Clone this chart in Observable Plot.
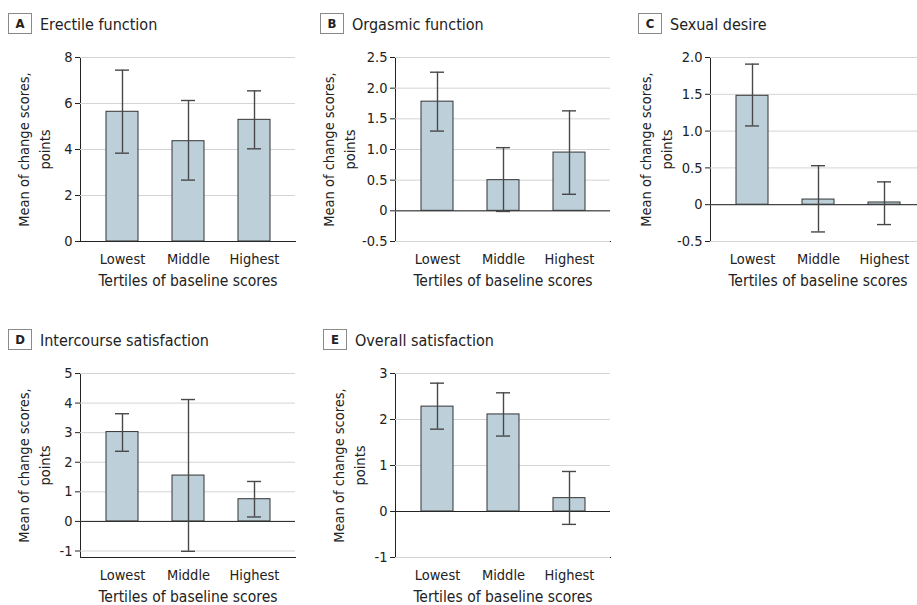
<!DOCTYPE html>
<html>
<head>
<meta charset="utf-8">
<script src="https://cdn.jsdelivr.net/npm/d3@7"></script>
<script src="https://cdn.jsdelivr.net/npm/@observablehq/plot@0.6"></script>
<style>
  html, body { margin:0; padding:0; background:#fff; overflow:hidden; }
  #root { position:relative; width:917px; height:605px; overflow:hidden; }
  .box { position:absolute; width:22px; height:19px; border:1px solid #8a8a8a; box-sizing:content-box;
         font:bold 13px "DejaVu Sans Condensed","DejaVu Sans",sans-serif; color:#222; text-align:center; line-height:19px; }
  .ttl { position:absolute; font:16px "DejaVu Sans Condensed","DejaVu Sans",sans-serif; color:#222; white-space:nowrap; line-height:20px; }
  .plot { position:absolute; }
</style>
</head>
<body>
<div id="root"></div>
<script>
const categories = ["Lowest", "Middle", "Highest"];
const panelLetters = ["A", "B", "C", "D", "E"];
const panelTitles = ["Erectile function", "Orgasmic function", "Sexual desire", "Intercourse satisfaction", "Overall satisfaction"];

const meanA = [5.64, 4.36, 5.29], lowA = [3.84, 2.67, 4.03], highA = [7.45, 6.13, 6.55];
const meanB = [1.78, 0.50, 0.95], lowB = [1.30, -0.01, 0.27], highB = [2.26, 1.03, 1.63];
const meanC = [1.48, 0.07, 0.03], lowC = [1.07, -0.37, -0.27], highC = [1.91, 0.53, 0.31];
const meanD = [3.02, 1.55, 0.75], lowD = [2.37, -1.01, 0.15], highD = [3.64, 4.12, 1.35];
const meanE = [2.28, 2.11, 0.29], lowE = [1.79, 1.64, -0.28], highE = [2.79, 2.58, 0.87];

const ticksA = [0, 2, 4, 6, 8];
const ticksB = [-0.5, 0, 0.5, 1.0, 1.5, 2.0, 2.5];
const ticksC = [-0.5, 0, 0.5, 1.0, 1.5, 2.0];
const ticksD = [-1, 0, 1, 2, 3, 4, 5];
const ticksE = [-1, 0, 1, 2, 3];
const domainsY = [[0, 8], [-0.5, 2.5], [-0.5, 2.0], [-1.22, 5], [-1, 3]];
const decimals = [0, 1, 1, 0, 0];

const yTitle = "Mean of change scores,\npoints";
const xTitle = "Tertiles of baseline scores";

const means = [meanA, meanB, meanC, meanD, meanE];
const lows = [lowA, lowB, lowC, lowD, lowE];
const highs = [highA, highB, highC, highD, highE];
const ticks = [ticksA, ticksB, ticksC, ticksD, ticksE];

// layout (pixel positions of each plot frame and header)
const axisX = [80, 395, 710, 80, 395];
const frameTop = [57, 57, 57, 373, 373];
const boxLeft = [8, 320, 638, 8, 323];
const yTitleDx = [-47.5, -57.5, -56, -47.5, -47.5];

const FONT = '"DejaVu Sans Condensed","DejaVu Sans",sans-serif';
const root = document.getElementById("root");

for (let i = 0; i < 5; i++) {
  const data = categories.map((c, k) => ({cat: c, mean: means[i][k], low: lows[i][k], high: highs[i][k]}));
  const fmt = v => v === 0 ? "0" : v.toFixed(decimals[i]);
  const top = frameTop[i];
  const box = document.createElement("div");
  box.className = "box"; box.textContent = panelLetters[i];
  box.style.left = boxLeft[i] + "px"; box.style.top = (top - 44.5) + "px";
  root.appendChild(box);
  const ttl = document.createElement("div");
  ttl.className = "ttl"; ttl.textContent = panelTitles[i];
  ttl.style.left = (boxLeft[i] + 32) + "px"; ttl.style.top = (top - 42.5) + "px";
  root.appendChild(ttl);

  const svg = Plot.plot({
    width: 300, height: 259,
    marginLeft: 80, marginRight: 5, marginTop: 20, marginBottom: 55,
    style: {fontFamily: FONT, fontSize: "14.5px", color: "#222", background: "transparent", overflow: "visible"},
    x: {domain: categories, paddingInner: 0.52, paddingOuter: 0.385, label: null, tickSize: 0, tickPadding: 12, line: true},
    y: {domain: domainsY[i], ticks: ticks[i], tickFormat: fmt, tickSize: 5, tickPadding: 3, label: null, line: true},
    marks: [
      Plot.gridY(ticks[i], {stroke: "#d4d4d4", strokeOpacity: 1, strokeWidth: 1}),
      Plot.ruleY([0], {stroke: "#222", strokeWidth: 1}),
      Plot.barY(data, {x: "cat", y: "mean", fill: "#bdd0da", stroke: "#333", strokeWidth: 1}),
      Plot.ruleX(data, {x: "cat", y1: "low", y2: "high", stroke: "#484848", strokeWidth: 1.4}),
      Plot.tickY(data, {x: "cat", y: "high", stroke: "#484848", strokeWidth: 1.4, insetLeft: 9, insetRight: 9}),
      Plot.tickY(data, {x: "cat", y: "low", stroke: "#484848", strokeWidth: 1.4, insetLeft: 9, insetRight: 9}),
      Plot.text([yTitle], {frameAnchor: "left", rotate: -90, dx: yTitleDx[i], lineAnchor: "middle", lineHeight: 1.45, textAnchor: "middle", fontSize: 14.5, fill: "#222"}),
      Plot.text([xTitle], {frameAnchor: "bottom", dy: 40, lineAnchor: "middle", textAnchor: "middle", fontSize: 15.5, fill: "#222"})
    ]
  });
  svg.classList.add("plot");
  svg.style.left = (axisX[i] - 80) + "px";
  svg.style.top = (top - 20) + "px";
  root.appendChild(svg);
}
</script>
</body>
</html>
